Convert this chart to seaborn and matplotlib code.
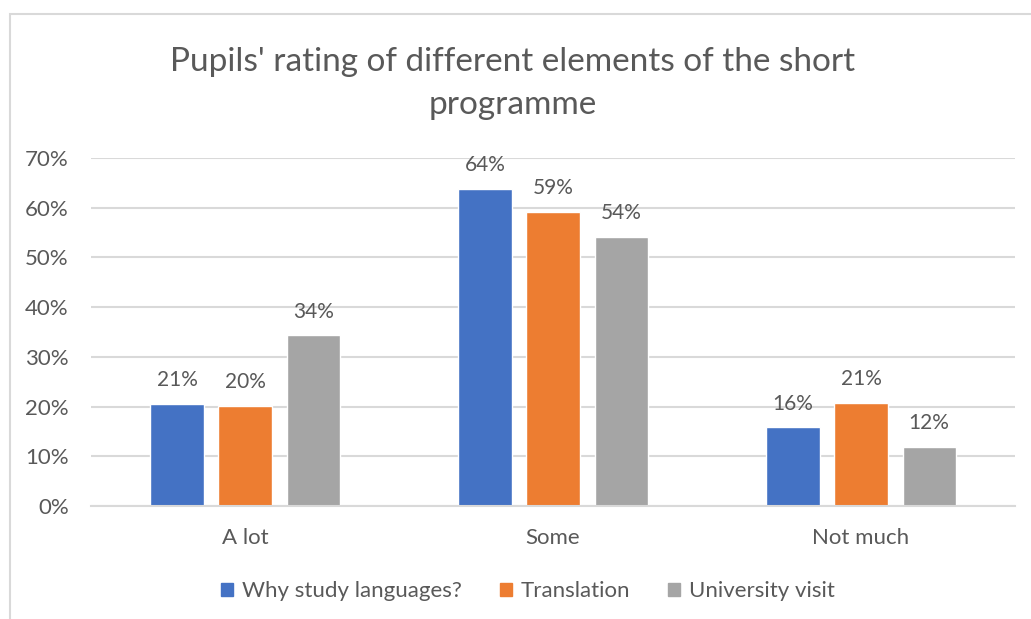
import matplotlib.pyplot as plt
import matplotlib.patches as mpatches
import seaborn as sns
import pandas as pd

# values (fractions)
categories = ['A lot', 'Some', 'Not much']
series = ['Why study languages?', 'Translation', 'University visit']
why_study = [0.206, 0.637, 0.158]
translation = [0.202, 0.591, 0.207]
uni_visit = [0.343, 0.541, 0.118]
colors = ['#4472C4', '#ED7D31', '#A5A5A5']

text_col = '#595959'
grid_col = '#D9D9D9'

sns.set_theme(style='white')
plt.rcParams['font.family'] = ['Lato', 'DejaVu Sans']

rows = []
for name, vals in zip(series, [why_study, translation, uni_visit]):
    for cat, v in zip(categories, vals):
        rows.append({'category': cat, 'series': name, 'value': v})
df = pd.DataFrame(rows)

fig = plt.figure(figsize=(10.31, 6.19), dpi=100)
ax = fig.add_axes([0.0883, 0.1826, 0.8962, 0.5621])

sns.barplot(data=df, x='category', y='value', hue='series', order=categories,
            hue_order=series, palette=colors, width=0.663, gap=0.22,
            saturation=1, ax=ax, legend=False)

for cont in ax.containers:
    ax.bar_label(cont, labels=[f'{v * 100:.0f}%' for v in cont.datavalues],
                 padding=10, fontsize=15, color=text_col)

ax.set_ylim(0, 0.7)
ax.set_xlim(-0.5, 2.5)
ax.set_yticks([i / 10 for i in range(8)])
ax.set_yticklabels([f'{i * 10}%' for i in range(8)])
ax.yaxis.grid(True, color=grid_col, linewidth=1.5)
ax.set_axisbelow(True)
for s in ['top', 'right', 'left']:
    ax.spines[s].set_visible(False)
ax.spines['bottom'].set_color(grid_col)
ax.spines['bottom'].set_linewidth(1.5)
ax.tick_params(axis='y', length=0, labelsize=16, labelcolor=text_col, pad=16)
ax.tick_params(axis='x', length=0, labelsize=16, labelcolor=text_col, pad=16)
ax.set_xlabel('')
ax.set_ylabel('')

fig.text(0.497, 0.865, "Pupils' rating of different elements of the short\nprogramme",
         ha='center', va='center', fontsize=24, color=text_col, linespacing=1.55)

handles = [mpatches.Patch(color=c, label=n) for c, n in zip(colors, series)]
fig.legend(handles=handles, loc='center', bbox_to_anchor=(0.512, 0.045), ncol=3,
           frameon=False, fontsize=16, labelcolor=text_col, handlelength=0.55,
           handleheight=0.55, handletextpad=0.4, columnspacing=1.7)

# chart area border (right and bottom edges fall outside the crop)
fig.patches.append(mpatches.Rectangle((0.0097, -0.1), 1.2, 1.077, transform=fig.transFigure,
                                      fill=False, edgecolor=grid_col, linewidth=1.5))

fig.savefig('out.png', dpi=100)
